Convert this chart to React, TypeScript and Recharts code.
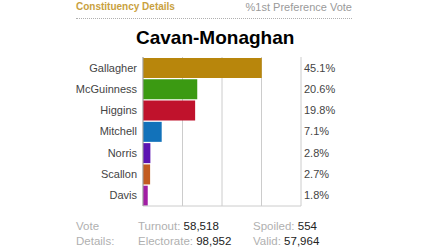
import { BarChart, Bar, XAxis, YAxis, CartesianGrid, Cell } from 'recharts';

const candidates = ['Gallagher', 'McGuinness', 'Higgins', 'Mitchell', 'Norris', 'Scallon', 'Davis'];
const votePct = [45.1, 20.6, 19.8, 7.1, 2.8, 2.7, 1.8];
const barColors = ['#b8860c', '#3b9a12', '#c0122c', '#1272ba', '#5c14b2', '#c25c22', '#a21ea4'];
const xTicks = [0, 15, 30, 45, 60];
const xMax = 60;

const data = candidates.map((name, i) => ({
  name,
  value: votePct[i],
  label: `${votePct[i].toFixed(1)}%`,
}));

const font = '"Liberation Sans", Arial, sans-serif';

// vertical grid lines at the x ticks (incl. right border)
const gridX = (props: any) => {
  const { xAxis, offset } = props;
  if (xAxis && typeof xAxis.scale === 'function') {
    return xTicks.map((t) => xAxis.scale(t));
  }
  return xTicks.map((t) => offset.left + (offset.width * t) / xMax);
};

const App = () => {
  return (
    <div
      style={{
        position: 'absolute',
        left: 0,
        top: 0,
        width: 440,
        height: 248,
        background: '#fff',
        fontFamily: font,
        overflow: 'hidden',
      }}
    >
      {/* header */}
      <div style={{ position: 'absolute', left: 76, top: 1, fontSize: 10, lineHeight: '12px', fontWeight: 'bold', color: '#c9a13e' }}>
        Constituency Details
      </div>
      <div style={{ position: 'absolute', right: 88, top: 1, fontSize: 11, lineHeight: '12px', color: '#9a9a9a' }}>
        %1st Preference Vote
      </div>
      <div style={{ position: 'absolute', left: 76, top: 18, width: 276, borderTop: '1px dotted #b0b0b0' }} />
      <div style={{ position: 'absolute', left: 136, top: 27, fontSize: 19, lineHeight: '22px', fontWeight: 'bold', color: '#000' }}>
        Cavan-Monaghan
      </div>

      <div style={{ position: 'absolute', left: 0, top: 0 }}>
        <BarChart
          width={440}
          height={248}
          data={data}
          layout="vertical"
          margin={{ top: 57, right: 0, bottom: 41, left: 0 }}
          barSize={20}
          style={{ fontFamily: font }}
        >
          <CartesianGrid horizontal={false} stroke="#cccccc" verticalCoordinatesGenerator={gridX} />
          <XAxis
            type="number"
            domain={[0, xMax]}
            ticks={xTicks}
            height={1}
            tick={false}
            tickLine={false}
            axisLine={{ stroke: '#cccccc' }}
          />
          <YAxis
            yAxisId="left"
            type="category"
            dataKey="name"
            width={143}
            tickLine={false}
            tickSize={0}
            tickMargin={6}
            axisLine={{ stroke: '#a0a0a0' }}
            tick={{ fill: '#444', fontSize: 11 }}
          />
          <YAxis
            yAxisId="right"
            orientation="right"
            type="category"
            dataKey="label"
            width={139}
            tickLine={false}
            tickSize={0}
            tickMargin={3}
            axisLine={false}
            tick={{ fill: '#444', fontSize: 11, textAnchor: 'start' }}
          />
          <Bar yAxisId="left" dataKey="value" isAnimationActive={false}>
            {data.map((d, i) => (
              <Cell key={d.name} fill={barColors[i]} />
            ))}
          </Bar>
        </BarChart>
      </div>

      {/* footer */}
      <div style={{ position: 'absolute', left: 76, top: 219, fontSize: 11.5, lineHeight: '14px', color: '#b0b0b0' }}>Vote</div>
      <div style={{ position: 'absolute', left: 76, top: 234, fontSize: 11.5, lineHeight: '14px', color: '#b0b0b0' }}>Details:</div>
      <div style={{ position: 'absolute', left: 138, top: 219, fontSize: 11.5, lineHeight: '14px', color: '#b0b0b0' }}>
        Turnout: <span style={{ color: '#222' }}>58,518</span>
      </div>
      <div style={{ position: 'absolute', left: 138, top: 234, fontSize: 11.5, lineHeight: '14px', color: '#b0b0b0' }}>
        Electorate: <span style={{ color: '#222' }}>98,952</span>
      </div>
      <div style={{ position: 'absolute', left: 253, top: 219, fontSize: 11.5, lineHeight: '14px', color: '#b0b0b0' }}>
        Spoiled: <span style={{ color: '#222' }}>554</span>
      </div>
      <div style={{ position: 'absolute', left: 253, top: 234, fontSize: 11.5, lineHeight: '14px', color: '#b0b0b0' }}>
        Valid: <span style={{ color: '#222' }}>57,964</span>
      </div>
    </div>
  );
};

export default App;
